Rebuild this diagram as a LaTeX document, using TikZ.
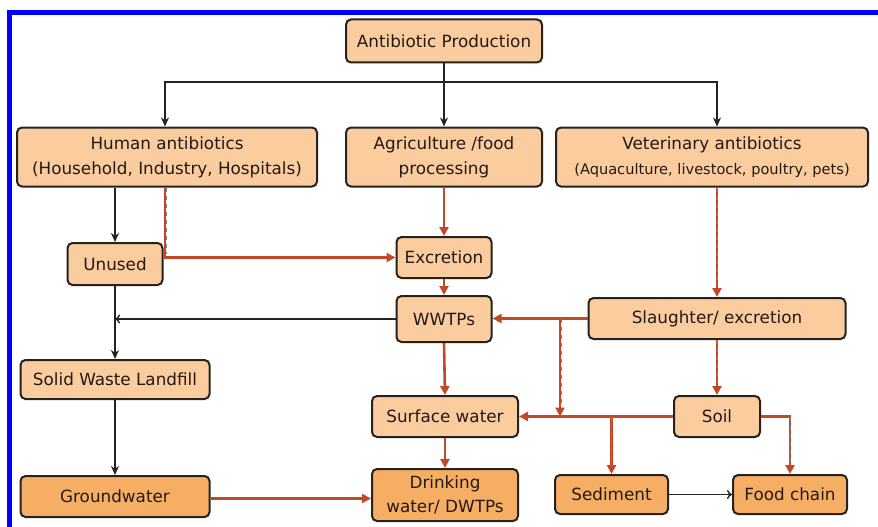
\documentclass[tikz,border=0pt]{standalone}
\usepackage{fontspec}
\setmainfont{DejaVu Sans}
\usetikzlibrary{arrows.meta,calc}
\definecolor{lightor}{RGB}{250,204,158}
\definecolor{darkor}{RGB}{246,174,100}
\definecolor{boxline}{RGB}{38,34,32}
\definecolor{redline}{RGB}{196,72,40}
\definecolor{txt}{RGB}{35,25,20}
\definecolor{frameblue}{RGB}{0,0,255}
\tikzset{
  box/.style={draw=boxline, line width=2pt, rounded corners=5pt, fill=lightor,
    inner sep=0pt, align=center, text=txt, font=\fontsize{16.8}{25}\selectfont},
  dbox/.style={box, fill=darkor},
  blk/.style={draw=boxline, line width=2.2pt, -{Stealth[length=9pt,width=8pt]}},
  thinblk/.style={draw=boxline, line width=1.4pt, -{To[length=5pt,width=9pt]}},
  red/.style={draw=redline, line width=2.6pt, -{Triangle[length=9pt,width=9pt]}},
  marks/.style={draw=black!50, line width=0.9pt, dash pattern=on 4pt off 4pt},
}
\begin{document}
\begin{tikzpicture}[x=1pt,y=-1pt]
\useasboundingbox (0,0) rectangle (878,527);
\fill[white] (0,0) rectangle (878,527);
\fill[frameblue] (7,10) rectangle (878,15);
\fill[frameblue] (7,10) rectangle (12,527);

\coordinate (split) at (444,82);

\node[box, minimum width=196pt, minimum height=43pt] (prod) at (444,41) {Antibiotic Production};
\node[box, minimum width=300pt, minimum height=59pt] (human) at (167,157) {Human antibiotics\\(Household, Industry, Hospitals)};
\node[box, minimum width=196pt, minimum height=59pt] (agri) at (444,157) {Agriculture /food\\processing};
\node[box, minimum width=312pt, minimum height=59pt] (vet) at (712,157) {Veterinary antibiotics\\{\fontsize{14.6}{20}\selectfont (Aquaculture, livestock, poultry, pets)}};
\node[box, minimum width=95pt, minimum height=42pt] (unused) at (115,264) {Unused};
\node[box, minimum width=95pt, minimum height=41pt] (excr) at (444,257.5) {Excretion};
\node[box, minimum width=95pt, minimum height=46pt] (wwtp) at (444,319) {WWTPs};
\node[box, minimum width=257pt, minimum height=41pt] (slau) at (717,318.5) {Slaughter/ excretion};
\node[box, minimum width=189pt, minimum height=39pt] (swl) at (115,379.5) {Solid Waste Landfill};
\node[box, minimum width=146pt, minimum height=41pt] (surf) at (445,416.5) {Surface water};
\node[box, minimum width=86pt, minimum height=41pt] (soil) at (717,416.5) {Soil};
\node[dbox, minimum width=189pt, minimum height=41pt] (gw) at (115,496.5) {Groundwater};
\node[dbox, minimum width=146pt, minimum height=52pt, font=\fontsize{16.8}{24}\selectfont] (dw) at (445,495) {Drinking\\water/ DWTPs};
\node[dbox, minimum width=113pt, minimum height=39pt] (sed) at (611.5,494.5) {Sediment};
\node[dbox, minimum width=114pt, minimum height=39pt] (food) at (790,494.5) {Food chain};

\draw[draw=boxline, line width=2.2pt] (prod.south) -- (split);
\draw[blk] (split) -| ([xshift=-2pt]human.north);
\draw[blk] (split) -- (agri.north);
\draw[blk] (split) -| ([xshift=5pt]vet.north);

% left black chain
\draw[blk] (human.south -| unused.north) -- (unused.north);
\draw[blk] (unused.south) -- (swl.north);
\draw[blk] (swl.south) -- (gw.north);
\draw[thinblk] (wwtp.west) -- (unused.south |- wwtp.west);

% red flows
\draw[red] ([xshift=-2pt]human.south) |- (excr.west);
\draw[marks] ([xshift=-1pt]human.south) -- ++(0,66);
\draw[red] (agri.south) -- (excr.north);
\draw[red] (excr.south) -- (wwtp.north);
\draw[red] (slau.north |- vet.south) -- (slau.north);
\draw[marks] (slau.north |- vet.south) -- ([yshift=12pt]slau.north);
\draw[red] (slau.west) -- (slau.west -| wwtp.east);
\coordinate (b1) at (560,318.5);
\draw[red] (b1) -- (b1 |- surf.east);
\draw[marks] ([xshift=1pt]b1) -- ([xshift=1pt,yshift=12pt]b1 |- surf.east);
\draw[red] (wwtp.south) -- (surf.north);
\draw[red] (slau.south) -- (soil.north);
\draw[marks] (slau.south) -- ([yshift=12pt]soil.north);
\draw[red] (soil.west) -- (surf.east);
\draw[red] (sed.north |- soil.west) -- (sed.north);
\draw[marks] (sed.north |- soil.west) -- ([yshift=12pt]sed.north);
\draw[red] (soil.east) -| (food.north);
\draw[marks] (soil.east -| food.north) -- ([yshift=12pt]food.north);
\draw[red] ([yshift=-2pt]gw.east) -- ([yshift=-2pt]gw.east -| dw.west);
\draw[red] (surf.south) -- (dw.north);
\draw[thinblk] (sed.east) -- (food.west);
\end{tikzpicture}
\end{document}
